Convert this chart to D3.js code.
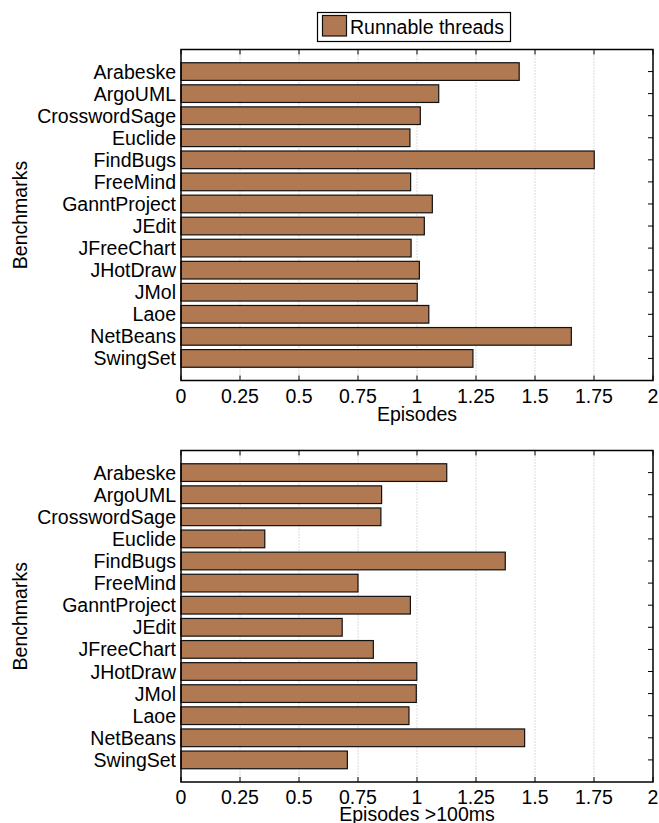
<!DOCTYPE html>
<html>
<head>
<meta charset="utf-8">
<script src="https://cdn.jsdelivr.net/npm/d3@7"></script>
<style>
  body { margin: 0; background: #fff; }
  text { font-family: "Liberation Sans", Arial, Helvetica, sans-serif; fill: #000; }
</style>
</head>
<body>
<script>
const benchmarks = ["Arabeske", "ArgoUML", "CrosswordSage", "Euclide", "FindBugs", "FreeMind",
  "GanntProject", "JEdit", "JFreeChart", "JHotDraw", "JMol", "Laoe", "NetBeans", "SwingSet"];

const episodes = [1.433, 1.092, 1.014, 0.970, 1.751, 0.973, 1.065, 1.031, 0.975, 1.010, 1.001, 1.050, 1.654, 1.237];
const episodesLong = [1.126, 0.850, 0.847, 0.355, 1.374, 0.750, 0.972, 0.683, 0.815, 0.999, 0.997, 0.966, 1.456, 0.705];

const xTicks = [0, 0.25, 0.5, 0.75, 1, 1.25, 1.5, 1.75, 2];
const xTickLabels = ["0", "0.25", "0.5", "0.75", "1", "1.25", "1.5", "1.75", "2"];
const legendLabel = "Runnable threads";

const width = 659;
const height = 823;
const barColor = "#b07952";
const fontSize = 19.5;

const svg = d3.select("body")
  .append("svg")
  .attr("width", width)
  .attr("height", height);

const x = d3.scaleLinear().domain([0, 2]).range([181, 653]);

function drawPanel(values, top, bottom, xLabel, xLabelY) {
  const y = d3.scaleLinear().domain([0, benchmarks.length + 1]).range([top, bottom]);
  const g = svg.append("g");

  // dotted grid
  g.selectAll(".grid")
    .data(xTicks.slice(1, -1))
    .join("line")
    .attr("x1", d => x(d)).attr("x2", d => x(d))
    .attr("y1", top).attr("y2", bottom)
    .attr("stroke", "#b5b5b5")
    .attr("stroke-width", 1)
    .attr("stroke-dasharray", "1,2");

  // bars
  g.selectAll(".bar")
    .data(values)
    .join("rect")
    .attr("x", x(0))
    .attr("y", (d, i) => y(i + 1 - 0.4))
    .attr("width", d => x(d) - x(0))
    .attr("height", y(0.8) - y(0))
    .attr("fill", barColor)
    .attr("stroke", "#111")
    .attr("stroke-width", 1.2);

  // x ticks top & bottom
  g.selectAll(".xtb")
    .data(xTicks)
    .join("line")
    .attr("x1", d => x(d)).attr("x2", d => x(d))
    .attr("y1", bottom).attr("y2", bottom - 5)
    .attr("stroke", "#000");
  g.selectAll(".xtt")
    .data(xTicks)
    .join("line")
    .attr("x1", d => x(d)).attr("x2", d => x(d))
    .attr("y1", top).attr("y2", top + 5)
    .attr("stroke", "#000");

  // y ticks on the right
  g.selectAll(".ytr")
    .data(benchmarks)
    .join("line")
    .attr("x1", x(2)).attr("x2", x(2) - 5)
    .attr("y1", (d, i) => y(i + 1)).attr("y2", (d, i) => y(i + 1))
    .attr("stroke", "#000");

  // frame
  g.append("rect")
    .attr("x", x(0)).attr("y", top)
    .attr("width", x(2) - x(0)).attr("height", bottom - top)
    .attr("fill", "none")
    .attr("stroke", "#000")
    .attr("stroke-width", 1.5);

  // category labels
  g.selectAll(".ylab")
    .data(benchmarks)
    .join("text")
    .attr("x", x(0) - 5)
    .attr("y", (d, i) => y(i + 1))
    .attr("dy", "0.36em")
    .attr("text-anchor", "end")
    .attr("font-size", fontSize)
    .text(d => d);

  // x tick labels
  g.selectAll(".xlab")
    .data(xTicks)
    .join("text")
    .attr("x", d => x(d))
    .attr("y", bottom + 22)
    .attr("text-anchor", "middle")
    .attr("font-size", fontSize)
    .text((d, i) => xTickLabels[i]);

  g.append("text")
    .attr("x", (x(0) + x(2)) / 2)
    .attr("y", xLabelY)
    .attr("text-anchor", "middle")
    .attr("font-size", fontSize)
    .text(xLabel);

  g.append("text")
    .attr("transform", `translate(27,${(top + bottom) / 2}) rotate(-90)`)
    .attr("text-anchor", "middle")
    .attr("font-size", fontSize)
    .text("Benchmarks");
}

drawPanel(episodes, 49.5, 380.5, "Episodes", 421);
drawPanel(episodesLong, 450.5, 782, "Episodes >100ms", 821);

// legend
const legend = svg.append("g");
legend.append("rect")
  .attr("x", 317.5).attr("y", 12.5)
  .attr("width", 193).attr("height", 29)
  .attr("fill", "#fff")
  .attr("stroke", "#000")
  .attr("stroke-width", 1.2);
legend.append("rect")
  .attr("x", 322.5).attr("y", 15.5)
  .attr("width", 24).attr("height", 20.5)
  .attr("fill", barColor)
  .attr("stroke", "#111")
  .attr("stroke-width", 1.2);
legend.append("text")
  .attr("x", 350)
  .attr("y", 34)
  .attr("font-size", fontSize)
  .text(legendLabel);
</script>
</body>
</html>
